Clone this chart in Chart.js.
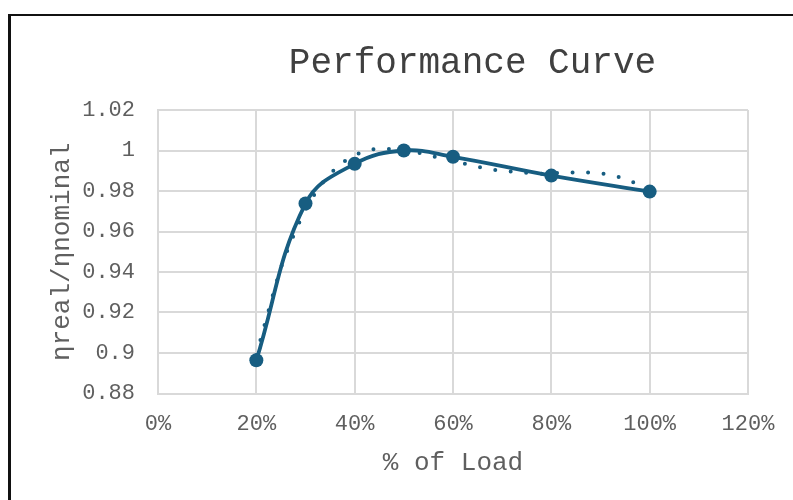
<!DOCTYPE html>
<html>
<head>
<meta charset="utf-8">
<script src="https://cdn.jsdelivr.net/npm/chart.js@4/dist/chart.umd.min.js"></script>
<style>
  html, body { margin: 0; padding: 0; background: #fff; overflow: hidden; width: 793px; height: 500px; }
  #wrap { position: absolute; left: 0; top: 0; width: 945px; height: 500px; }
  #frame { position: absolute; left: 8px; top: 14px; width: 1200px; height: 800px;
           border-left: 3px solid #111; border-top: 2px solid #111; pointer-events: none; }
  canvas { display: block; }
</style>
</head>
<body>
<div id="wrap"><canvas id="c" width="945" height="500"></canvas></div>
<div id="frame"></div>
<script>
// Measured efficiency ratio at each load level (% of rated load)
const loadPct = [20, 30, 40, 50, 60, 80, 100];
const effRatio = [0.8964, 0.9738, 0.9934, 1.0, 0.9969, 0.9876, 0.9797];

// Polynomial trendline, sampled along its course
const trendX = [20, 22.5, 24.3, 25.3, 27.8, 29.2, 32.4, 36.8, 39.5, 42.5, 45.8, 52.2, 55.3, 61.6, 64.8, 67.9, 71.1, 74.4, 77.6, 84.2, 87.5, 90.8, 93.9, 97.0, 100];
const trendY = [0.899, 0.9211, 0.9366, 0.9442, 0.9593, 0.9668, 0.9804, 0.9926, 0.9969, 1.0, 1.0008, 0.9992, 0.9975, 0.9939, 0.9921, 0.9906, 0.9898, 0.9891, 0.9885, 0.9891, 0.9891, 0.9885, 0.9868, 0.984, 0.9805];

// Axis ticks
const xTicks = [0, 20, 40, 60, 80, 100, 120];
const xTickLabels = ['0%', '20%', '40%', '60%', '80%', '100%', '120%'];
const yTicks = [0.88, 0.9, 0.92, 0.94, 0.96, 0.98, 1.0, 1.02];
const yTickLabels = ['0.88', '0.9', '0.92', '0.94', '0.96', '0.98', '1', '1.02'];

const FONT = "'Liberation Mono', 'Courier New', monospace";
const TEXT = '#5f5f5f';
const GRID = '#d9d9d9';
const SERIES = '#175d81';

const mainPts = loadPct.map((x, i) => ({ x: x, y: effRatio[i] }));
const trendPts = trendX.map((x, i) => ({ x: x, y: trendY[i] }));

new Chart(document.getElementById('c'), {
  type: 'scatter',
  data: {
    datasets: [
      {
        data: mainPts,
        showLine: true,
        borderColor: SERIES,
        backgroundColor: SERIES,
        borderWidth: 3.8,
        tension: 0.4,
        pointRadius: 7,
        pointBorderWidth: 0,
        pointBackgroundColor: SERIES
      },
      {
        data: trendPts,
        showLine: true,
        borderColor: SERIES,
        borderWidth: 4,
        borderDash: [0, 15.5],
        borderCapStyle: 'round',
        cubicInterpolationMode: 'monotone',
        pointRadius: 0
      }
    ]
  },
  options: {
    responsive: false,
    animation: false,
    layout: { padding: 0 },
    plugins: {
      legend: { display: false },
      tooltip: { enabled: false },
      title: {
        display: true,
        text: 'Performance Curve',
        color: '#404040',
        font: { family: FONT, size: 36, weight: 'normal', lineHeight: 1.2 },
        padding: { top: 42, bottom: 24.8 }
      }
    },
    scales: {
      x: {
        type: 'linear',
        min: 0, max: 120,
        afterBuildTicks: s => { s.ticks = xTicks.map(v => ({ value: v })); },
        afterFit: s => { s.height = 106.5; },
        grid: { color: GRID, lineWidth: 2, drawTicks: false },
        border: { color: GRID, width: 2 },
        ticks: {
          color: TEXT,
          padding: 17,
          font: { family: FONT, size: 22, lineHeight: 1.2 },
          callback: v => xTickLabels[xTicks.indexOf(v)]
        },
        title: {
          display: true,
          text: '% of Load',
          color: TEXT,
          font: { family: FONT, size: 26, lineHeight: 1.2 },
          padding: { top: 0, bottom: 21 }
        }
      },
      y: {
        type: 'linear',
        min: 0.88, max: 1.02,
        afterBuildTicks: s => { s.ticks = yTicks.map(v => ({ value: v })); },
        afterFit: s => { s.width = 158; },
        grid: { color: GRID, lineWidth: 2, drawTicks: false },
        border: { color: GRID, width: 2 },
        ticks: {
          color: TEXT,
          padding: 23,
          font: { family: FONT, size: 22, lineHeight: 1.2 },
          callback: v => yTickLabels[yTicks.findIndex(t => Math.abs(t - v) < 1e-9)]
        },
        title: {
          display: true,
          text: 'ηreal/ηnominal',
          color: TEXT,
          font: { family: FONT, size: 26, lineHeight: 1.2 },
          padding: { top: 47, bottom: 0 }
        }
      },
      // empty right-hand margin of the chart frame
      yRight: {
        type: 'linear',
        position: 'right',
        display: true,
        min: 0, max: 1,
        afterFit: s => { s.width = 197; },
        grid: { display: false, drawOnChartArea: false },
        border: { display: false },
        ticks: { display: false }
      }
    }
  }
});
</script>
</body>
</html>
